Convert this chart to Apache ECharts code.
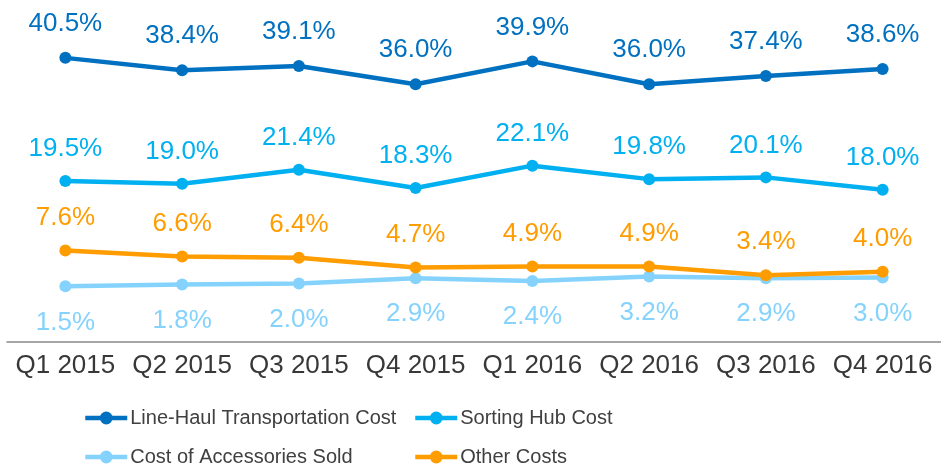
<!DOCTYPE html>
<html>
<head>
<meta charset="utf-8">
<script src="https://cdn.jsdelivr.net/npm/echarts@6/dist/echarts.min.js"></script>
<style>
  html, body { margin: 0; padding: 0; background: #fff; }
  #chart { width: 941px; height: 467px; }
</style>
</head>
<body>
<div id="chart"></div>
<script>
  var quarters = ['Q1 2015', 'Q2 2015', 'Q3 2015', 'Q4 2015', 'Q1 2016', 'Q2 2016', 'Q3 2016', 'Q4 2016'];
  var lineHaul = [40.5, 38.4, 39.1, 36.0, 39.9, 36.0, 37.4, 38.6];
  var sortingHub = [19.5, 19.0, 21.4, 18.3, 22.1, 19.8, 20.1, 18.0];
  var accessories = [1.5, 1.8, 2.0, 2.9, 2.4, 3.2, 2.9, 3.0];
  var otherCosts = [7.6, 6.6, 6.4, 4.7, 4.9, 4.9, 3.4, 4.0];

  var font = 'Liberation Sans, Arial, sans-serif';

  // one line series, label above or below the points
  function makeLine(name, data, color, labelPos, dist) {
    return {
      name: name,
      type: 'line',
      data: data,
      symbol: 'circle',
      symbolSize: 12,
      lineStyle: { width: 4.5, color: color },
      itemStyle: { color: color },
      label: {
        show: true,
        position: labelPos,
        distance: dist,
        color: color,
        fontSize: 26,
        fontFamily: font,
        formatter: function (p) { return p.value.toFixed(1) + '%'; }
      }
    };
  }

  // one legend entry per component so the 2x2 layout is fixed
  function makeLegend(name, left, top) {
    return {
      left: left,
      top: top,
      padding: 0,
      itemWidth: 42,
      itemHeight: 16,
      lineStyle: { width: 4.5 },
      textStyle: { fontSize: 20, color: '#404040', fontFamily: font, padding: [0, 0, 0, -2] },
      data: [name]
    };
  }

  var chart = echarts.init(document.getElementById('chart'));
  chart.setOption({
    animation: false,
    grid: { left: 7, width: 941, top: 31.5, bottom: 125 },
    xAxis: {
      type: 'category',
      data: quarters,
      axisLine: { onZero: false, lineStyle: { color: '#898989', width: 1.5 } },
      axisTick: { show: false },
      axisLabel: { interval: 0, color: '#383838', fontSize: 26, fontFamily: font, margin: 11 }
    },
    yAxis: {
      type: 'value',
      min: -8,
      max: 45,
      show: false
    },
    legend: [
      makeLegend('Line-Haul Transportation Cost', 83, 408),
      makeLegend('Sorting Hub Cost', 413, 408),
      makeLegend('Cost of Accessories Sold', 83, 447),
      makeLegend('Other Costs', 413, 447)
    ],
    series: [
      makeLine('Line-Haul Transportation Cost', lineHaul, '#0070C0', 'top', 15),
      makeLine('Sorting Hub Cost', sortingHub, '#00B0F0', 'top', 13),
      makeLine('Cost of Accessories Sold', accessories, '#85D3FD', 'bottom', 17),
      makeLine('Other Costs', otherCosts, '#FF9C00', 'top', 14)
    ]
  });
</script>
</body>
</html>
